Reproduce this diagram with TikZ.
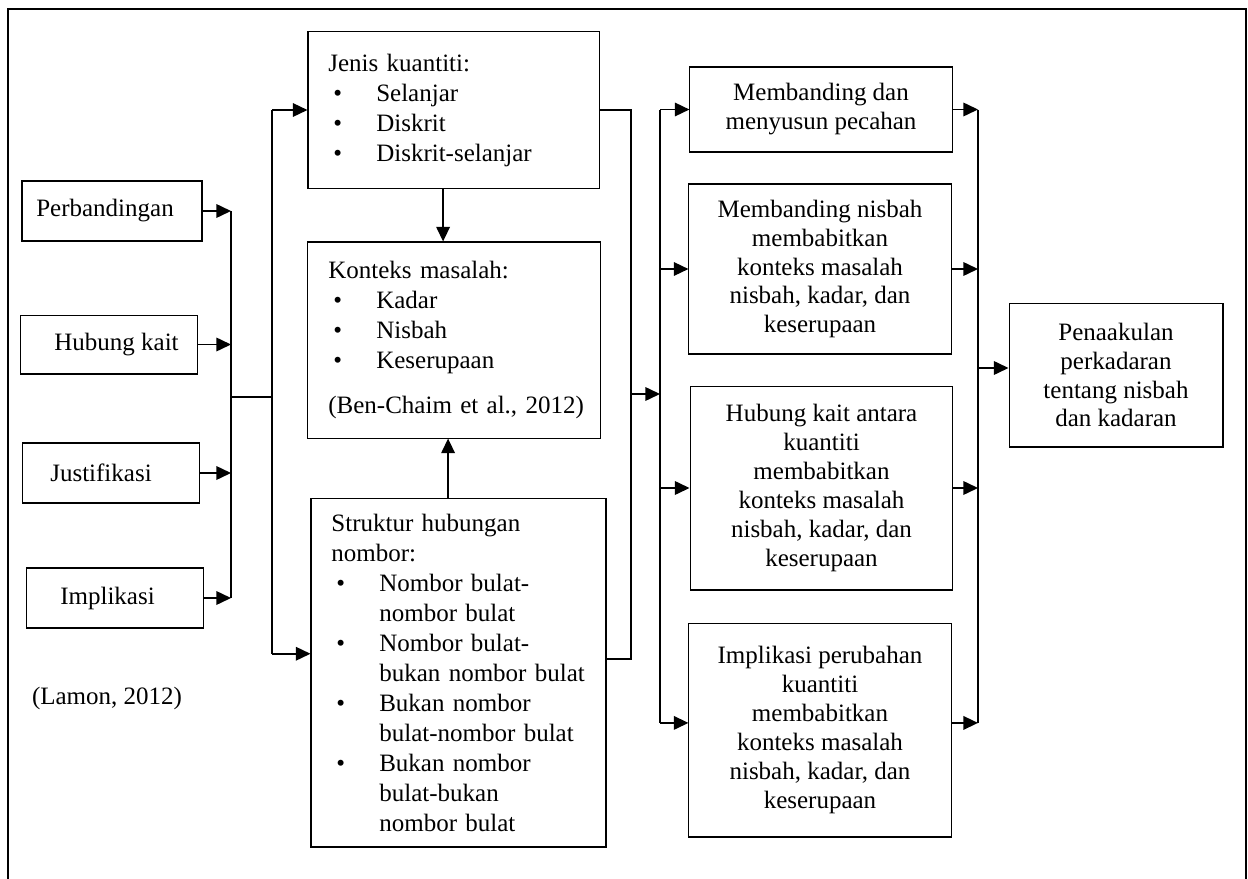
\documentclass[tikz,border=0pt]{standalone}
\usepackage{fontspec}
\setmainfont{Liberation Serif}
\usetikzlibrary{arrows.meta}
\newcommand{\blt}{\makebox[23pt][l]{\hspace{2.4pt}\textbullet}}
\newcommand{\ind}{\hspace*{23pt}}

\begin{document}
\begin{tikzpicture}[x=0.48pt, y=-0.48pt,
  box/.style={draw, line width=0.5pt, inner sep=0pt, align=center, font=\fontsize{12}{13.9}\selectfont},
  lbox/.style={draw, line width=0.5pt, inner xsep=9.8pt, inner ysep=0pt, align=left, font=\fontsize{12}{14.4}\selectfont},
  ln/.style={line width=0.8pt},
  arr/.style={line width=0.8pt, -{Triangle[length=7pt, width=6.5pt]}}]
\useasboundingbox (0,0) rectangle (1248,879);
\draw[line width=1pt] (8,879) -- (8,9) -- (1246,9) -- (1246,879);

\node[box, minimum width=86.4pt, minimum height=28.8pt] (Pb) at (112,211) {Perbandingan\kern6.7pt};
\node[box, minimum width=85.4pt, minimum height=28.3pt] (Hk) at (109,344.5) {\kern7.2pt Hubung kait};
\node[box, minimum width=85.4pt, minimum height=28.8pt] (Js) at (111,473) {Justifikasi\kern9.6pt};
\node[box, minimum width=85.4pt, minimum height=28.8pt] (Im) at (115,598) {Implikasi\kern7.2pt};
\node[font=\fontsize{12}{14.4}\selectfont] (Lm) at (107,698) {(Lamon, 2012)};

\node[lbox, text width=120.1pt, minimum height=74.9pt] (Jk) at (453.5,110) {Jenis kuantiti:\\
\blt Selanjar\\
\blt Diskrit\\
\blt Diskrit-selanjar};
\node[lbox, text width=120.6pt, minimum height=94.1pt] (Km) at (454,340) {Konteks masalah:\\
\blt Kadar\\
\blt Nisbah\\
\blt Keserupaan\\[7pt]
\mbox{(Ben-Chaim et al., 2012)}};
\node[lbox, text width=122pt, minimum height=167.5pt] (Sh) at (458.5,672.5) {Struktur hubungan\\
nombor:\\
\blt Nombor bulat-\\
\ind nombor bulat\\
\blt Nombor bulat-\\
\ind bukan nombor bulat\\
\blt Bukan nombor\\
\ind bulat-nombor bulat\\
\blt Bukan nombor\\
\ind bulat-bukan\\
\ind nombor bulat};

\node[box, minimum width=125.8pt, minimum height=40.8pt] (Md) at (821,109.5) {Membanding dan\\menyusun pecahan};
\node[box, minimum width=125.8pt, minimum height=81.6pt] (Mn) at (820,269) {Membanding nisbah\\membabitkan\\konteks masalah\\nisbah, kadar, dan\\keserupaan};
\node[box, minimum width=126.2pt, minimum height=97.9pt] (Ha) at (821.5,488) {Hubung kait antara\\kuantiti\\membabitkan\\konteks masalah\\nisbah, kadar, dan\\keserupaan};
\node[box, minimum width=125.8pt, minimum height=102.7pt] (Ip) at (820,730) {Implikasi perubahan\\kuantiti\\membabitkan\\konteks masalah\\nisbah, kadar, dan\\keserupaan};
\node[box, minimum width=102.7pt, minimum height=69.1pt] (Pn) at (1116,375) {Penaakulan\\perkadaran\\tentang nisbah\\dan kadaran};

\coordinate (L1) at (231,0);
\coordinate (L2) at (272,0);
\coordinate (L3) at (631,0);
\coordinate (L4) at (660,0);
\coordinate (L5) at (978,0);
\coordinate (J1) at (231,397);
\coordinate (J2) at (631,394);
\coordinate (J3) at (978,368);
\coordinate (S1) at ([yshift=9pt]Sh.west);
\coordinate (S2) at ([yshift=6.5pt]Sh.east);
\coordinate (I1) at ([yshift=3.4pt]Ip.west);
\coordinate (I2) at ([yshift=3.4pt]Ip.east);

\draw[arr] (Pb.east) -- (Pb.east -| L1);
\draw[arr] (Hk.east) -- (Hk.east -| L1);
\draw[arr] (Js.east) -- (Js.east -| L1);
\draw[arr] (Im.east) -- (Im.east -| L1);
\draw[ln] (Pb.east -| L1) -- (Im.east -| L1);
\draw[ln] (J1) -- (J1 -| L2);
\draw[ln] (Jk.west -| L2) -- (S1 -| L2);
\draw[arr] (Jk.west -| L2) -- (Jk.west);
\draw[arr] (S1 -| L2) -- (S1);

\draw[arr] ([xshift=-5pt]Jk.south) -- ([xshift=-5pt]Jk.south |- Km.north);
\draw[arr] ([xshift=-5pt]Sh.north) -- ([xshift=-5pt]Sh.north |- Km.south);

\draw[ln] (Jk.east) -- (Jk.east -| L3) -- (S2 -| L3) -- (S2);
\draw[arr] (J2) -- (J2 -| L4);

\draw[ln] (Md.west -| L4) -- (I1 -| L4);
\draw[arr] (Md.west -| L4) -- (Md.west);
\draw[arr] (Mn.west -| L4) -- (Mn.west);
\draw[arr] (Ha.west -| L4) -- (Ha.west);
\draw[arr] (I1 -| L4) -- (I1);

\draw[arr] (Md.east) -- (Md.east -| L5);
\draw[arr] (Mn.east) -- (Mn.east -| L5);
\draw[arr] (Ha.east) -- (Ha.east -| L5);
\draw[arr] (I2) -- (I2 -| L5);
\draw[ln] (Md.east -| L5) -- (I2 -| L5);
\draw[arr] (J3) -- (J3 -| Pn.west);
\end{tikzpicture}
\end{document}
